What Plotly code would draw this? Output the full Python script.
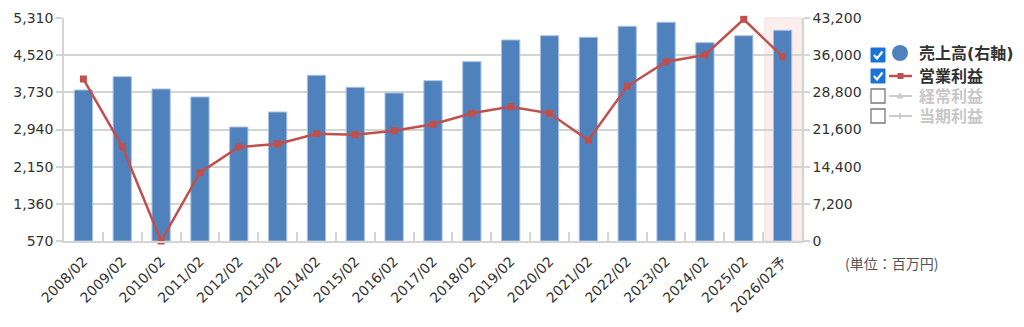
import plotly.graph_objects as go

categories = ["2008/02", "2009/02", "2010/02", "2011/02", "2012/02", "2013/02", "2014/02",
              "2015/02", "2016/02", "2017/02", "2018/02", "2019/02", "2020/02", "2021/02",
              "2022/02", "2023/02", "2024/02", "2025/02", "2026/02予"]
sales = [29250, 31830, 29450, 27900, 22080, 24990, 32100, 29770, 28670, 31050,
         34740, 38940, 39770, 39460, 41590, 42370, 38420, 39770, 40820]
op_profit = [4013, 2575, 570, 2022, 2568, 2632, 2851, 2830, 2915, 3050,
             3284, 3425, 3284, 2710, 3858, 4381, 4524, 5282, 4488]
left_ticks = [570, 1360, 2150, 2940, 3730, 4520, 5310]
right_ticks = [0, 7200, 14400, 21600, 28800, 36000, 43200]

# plot-area pixel geometry
L, R, T, B = 64, 802, 18, 241
W, H = 1024, 327

def px(x):
    return (x - L) / (R - L)

def py(y):
    return (B - y) / (B - T)

fig = go.Figure()
fig.add_trace(go.Bar(x=categories, y=sales, yaxis="y", width=0.47,
                     marker=dict(color="#4f81bd", line=dict(color="#a9c1e2", width=1)),
                     name="売上高(右軸)"))
fig.add_trace(go.Scatter(x=categories, y=op_profit, yaxis="y2", mode="lines+markers",
                         line=dict(color="#c0504d", width=2.5),
                         marker=dict(symbol="square", size=7, color="#c0504d"),
                         name="営業利益", cliponaxis=False))

font_fam = "DejaVu Sans, Noto Sans CJK JP"
grid_c = "#d4d4d4"

shapes = []
annotations = []
# forecast band
shapes.append(dict(type="rect", xref="x", yref="paper", x0=17.55, x1=18.5, y0=0, y1=1,
                   fillcolor="#fdeeee", line=dict(color="#f6dada", width=1), layer="below"))

# legend
rows = [55, 76, 96, 116]
labels = ["売上高(右軸)", "営業利益", "経常利益", "当期利益"]
checked = [True, True, False, False]
for i, (yc, lab, ck) in enumerate(zip(rows, labels, checked)):
    x0, x1 = 871, 885
    if ck:
        shapes.append(dict(type="rect", xref="paper", yref="paper",
                           x0=px(x0), x1=px(x1), y0=py(yc + 7), y1=py(yc - 7),
                           fillcolor="#1a73d9", line=dict(color="#1a73d9", width=1)))
        path = "M {} {} L {} {} L {} {}".format(px(874), py(yc), px(877), py(yc + 3.5),
                                                  px(882.5), py(yc - 3.5))
        shapes.append(dict(type="path", xref="paper", yref="paper", path=path,
                           line=dict(color="white", width=2.2)))
    else:
        shapes.append(dict(type="rect", xref="paper", yref="paper",
                           x0=px(x0), x1=px(x1), y0=py(yc + 7), y1=py(yc - 7),
                           fillcolor="white", line=dict(color="#7a7a7a", width=1.3)))
    if i == 0:
        shapes.append(dict(type="circle", xref="paper", yref="paper",
                           x0=px(892), x1=px(908), y0=py(yc + 6), y1=py(yc - 10),
                           fillcolor="#4f81bd", line=dict(color="#4f81bd", width=0)))
    elif i == 1:
        shapes.append(dict(type="line", xref="paper", yref="paper",
                           x0=px(889), x1=px(912), y0=py(yc), y1=py(yc),
                           line=dict(color="#c0504d", width=2.5)))
        shapes.append(dict(type="rect", xref="paper", yref="paper",
                           x0=px(897.5), x1=px(903.5), y0=py(yc + 3), y1=py(yc - 3),
                           fillcolor="#c0504d", line=dict(width=0)))
    else:
        shapes.append(dict(type="line", xref="paper", yref="paper",
                           x0=px(889), x1=px(912), y0=py(yc), y1=py(yc),
                           line=dict(color="#cccccc", width=2)))
        if i == 2:
            path = "M {} {} L {} {} L {} {} Z".format(px(897), py(yc + 2), px(903), py(yc + 2),
                                                       px(900), py(yc - 3))
            shapes.append(dict(type="path", xref="paper", yref="paper", path=path,
                               fillcolor="#cccccc", line=dict(color="#cccccc", width=1)))
        else:
            shapes.append(dict(type="rect", xref="paper", yref="paper",
                               x0=px(899), x1=px(901), y0=py(yc + 3), y1=py(yc - 3),
                               fillcolor="#cccccc", line=dict(width=0)))
    ty = yc - 2 if i == 0 else yc
    annotations.append(dict(xref="paper", yref="paper", x=px(917), y=py(ty), text="<b>" + lab + "</b>",
                            showarrow=False, xanchor="left", yanchor="middle",
                            font=dict(family="DejaVu Sans, Noto Sans CJK JP", size=16,
                                      color="#333333" if ck else "#c8c8c8")))

annotations.append(dict(xref="paper", yref="paper", x=px(843), y=py(263), text="(単位：百万円)",
                        showarrow=False, xanchor="left", yanchor="middle",
                        font=dict(family="Noto Sans CJK JP", size=14, color="#555555")))

fig.update_layout(
    width=W, height=H,
    margin=dict(l=L, r=W - R, t=T, b=H - B, pad=0, autoexpand=False),
    paper_bgcolor="white", plot_bgcolor="white",
    showlegend=False, bargap=0.53,
    font=dict(family=font_fam, size=14, color="#333333"),
    xaxis=dict(type="category", tickangle=-45, tickfont=dict(size=14, color="#333333"),
               showline=True, linecolor=grid_c, linewidth=1.5,
               ticks="inside", ticklen=9, tickcolor=grid_c, tickwidth=1.5,
               tickson="boundaries", showgrid=False, range=[-0.5, 18.5],
               ticklabelstandoff=5, automargin=False),
    yaxis=dict(side="right", range=[0, 43200], tickvals=right_ticks,
               tickformat=",d", showgrid=True, gridcolor=grid_c, gridwidth=1.5,
               showline=True, linecolor=grid_c, linewidth=1.5,
               ticks="outside", ticklen=6, tickcolor=grid_c, tickwidth=1.5,
               zeroline=False, tickfont=dict(size=14), automargin=False),
    yaxis2=dict(side="left", overlaying="y", range=[570, 5310], tickvals=left_ticks,
                tickformat=",d", showgrid=False,
                showline=True, linecolor=grid_c, linewidth=1.5,
                ticks="outside", ticklen=6, tickcolor=grid_c, tickwidth=1.5,
                zeroline=False, tickfont=dict(size=14), automargin=False),
    shapes=shapes, annotations=annotations,
)

fig.write_html("out.html")
